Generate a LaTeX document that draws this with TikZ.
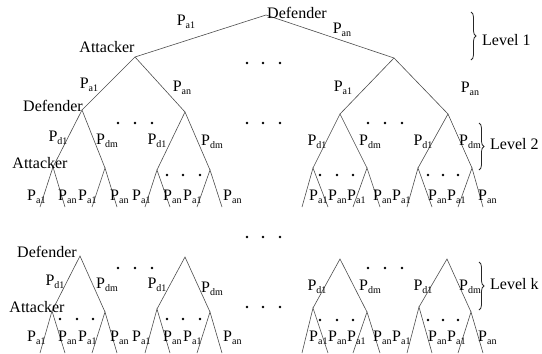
\documentclass[tikz,border=0pt]{standalone}
\usepackage{fontspec}
\setmainfont{Liberation Serif}
\usetikzlibrary{decorations.pathreplacing}
\newcommand\Psub[1]{P\raisebox{-0.4ex}{\fontsize{10}{10}\selectfont #1}}
\begin{document}
\begin{tikzpicture}[x=1pt,y=-1pt,
  edge/.style={draw=black!70,line width=0.6pt},
  lbl/.style={inner sep=0pt,font=\fontsize{16}{16}\selectfont},
  lw/.style={lbl,anchor=west},
  dotf/.style={fill=black},
  brc/.style={draw=black!85,line width=0.8pt,decorate,decoration={brace,amplitude=5pt}}]
\useasboundingbox (0,0) rectangle (542,354);
% level 1
\coordinate (r) at (266,15);
\coordinate (A1) at (135,57);
\coordinate (A2) at (394,58);
\coordinate (D1) at (82,110);
\coordinate (D2) at (185,112);
\coordinate (D3) at (340,114);
\coordinate (D4) at (448,114);
\draw[edge] (A1) -- (r) -- (A2);
\draw[edge] (D1) -- (A1) -- (D2);
\draw[edge] (D3) -- (A2) -- (D4);
% level 2 subtrees
\foreach \n/\ax/\ay/\bx/\by/\p/\q/\s/\t in {
  D1/53/167/105/168/40/65/92/117,
  D2/157/170/210/170/145/170/197/222,
  D3/313/168/367/168/302/328/353/380,
  D4/418/168/472/168/407/432/458/483}{
  \coordinate (\n a) at (\ax,\ay);
  \coordinate (\n b) at (\bx,\by);
  \coordinate (\n ap) at (\p,207);
  \coordinate (\n aq) at (\q,207);
  \coordinate (\n bp) at (\s,207);
  \coordinate (\n bq) at (\t,207);
  \draw[edge] (\n a) -- (\n) -- (\n b);
  \draw[edge] (\n ap) -- (\n a) -- (\n aq);
  \draw[edge] (\n bp) -- (\n b) -- (\n bq);
}
% level k subtrees
\foreach \n/\dx/\dy/\ax/\ay/\bx/\by/\p/\q/\s/\t in {
  K1/80/256/52/311/105/312/40/65/92/117,
  K2/185/257/157/309/210/312/145/170/197/222,
  K3/340/259/313/308/367/312/302/328/353/380,
  K4/447/259/419/307/471/312/407/432/458/483}{
  \coordinate (\n) at (\dx,\dy);
  \coordinate (\n a) at (\ax,\ay);
  \coordinate (\n b) at (\bx,\by);
  \coordinate (\n ap) at (\p,353);
  \coordinate (\n aq) at (\q,353);
  \coordinate (\n bp) at (\s,353);
  \coordinate (\n bq) at (\t,353);
  \draw[edge] (\n a) -- (\n) -- (\n b);
  \draw[edge] (\n ap) -- (\n a) -- (\n aq);
  \draw[edge] (\n bp) -- (\n b) -- (\n bq);
}
% labels level 1
\node[lw] (tdef) at (267,13) {Defender};
\node[lbl] (tpa1) at (186,22) {\Psub{a1}};
\node[lbl] (tpan) at (342,30) {\Psub{an}};
\node[lbl] (tatt) at (107,47) {Attacker};
\node[lbl] (l1a) at (89,85) {\Psub{a1}};
\node[lbl] (l1b) at (182,88) {\Psub{an}};
\node[lbl] (l1c) at (343,88) {\Psub{a1}};
\node[lbl] (l1d) at (470,89) {\Psub{an}};
% level 2 labels
\node[lbl] (def2) at (53,106) {Defender};
\node[lbl] (att2) at (40,163) {Attacker};
\foreach \x/\y/\s [count=\c] in {58/138/d1,107/141/dm,157/141/d1,212/142/dm,317/142/d1,370/142/dm,423/142/d1,470/142/dm}{
  \node[lbl] (pd2\c) at (\x,\y) {\Psub{\s}};
}
\foreach \x/\s [count=\c] in {27/a1,58/an,78/a1,110/an,132/a1,163/an,183/a1,223/an,309/a1,328/an,347/a1,373/an,392/a1,428/an,447/a1,478/an}{
  \node[lw] (lf2\c) at (\x,197) {\Psub{\s}};
  \node[lw] (lfk\c) at (\x,338) {\Psub{\s}};
}
% level k labels
\node[lbl] (defk) at (47,252) {Defender};
\node[lbl] (attk) at (37,307) {Attacker};
\foreach \x/\y/\s [count=\c] in {55/282/d1,107/285/dm,157/285/d1,212/289/dm,317/287/d1,370/287/dm,423/287/d1,470/287/dm}{
  \node[lbl] (pdk\c) at (\x,\y) {\Psub{\s}};
}
% dots
\foreach \x/\y in {247/63,263/63,280/63,
  118/123,135/123,152/123, 247/123,263/123,280/123, 368/123,385/123,402/123,
  167/175,183/175,200/175, 320/175,337/175,353/175, 428/175,443/175,458/175,
  247/237,263/237,280/237,
  118/268,135/268,152/268, 368/268,385/268,402/268,
  247/307,263/307,280/307,
  60/319,77/319,93/319, 167/319,183/319,200/319, 320/320,337/320,353/320, 428/320,443/320,458/320}{
  \fill[dotf] (\x,\y) circle (1.4);
}
% braces
\draw[brc] (471,12) -- (471,60);
\node[lw] (lev1) at (482,40) {Level 1};
\draw[brc] (479,123) -- (479,170);
\node[lw] (lev2) at (490,144) {Level 2};
\draw[brc] (479,262) -- (479,310);
\node[lw] (levk) at (490,284) {Level k};
\end{tikzpicture}
\end{document}
